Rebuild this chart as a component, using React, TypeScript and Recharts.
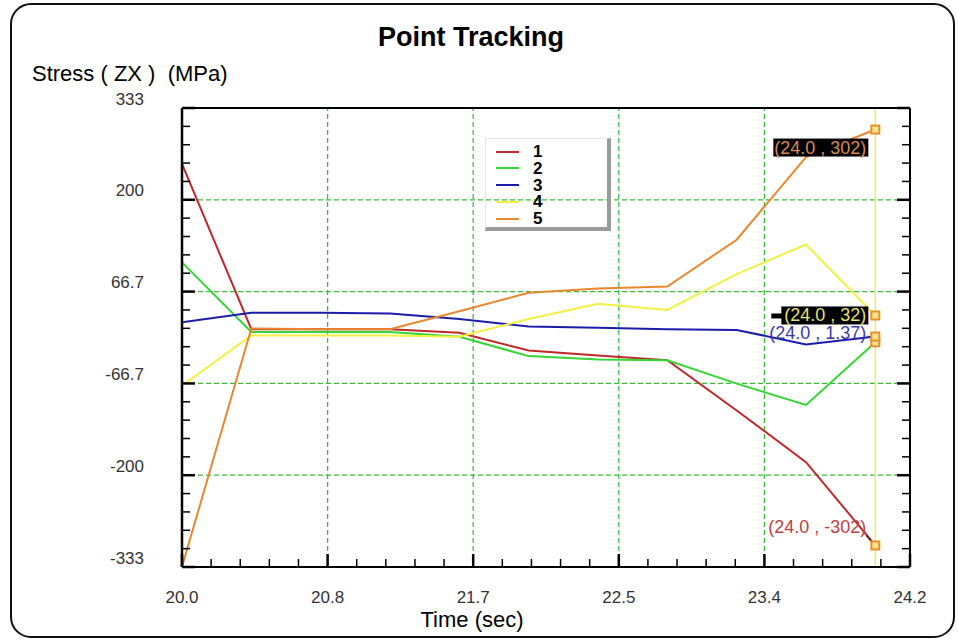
import React from "react";
import { LineChart, Line, XAxis, YAxis, ReferenceLine } from "recharts";

// sample times (sec)
const times = [20.0, 20.4, 20.8, 21.2, 21.6, 22.0, 22.4, 22.8, 23.2, 23.6, 24.0];

// stress ZX per tracked point (MPa)
const point1 = [252, 12, 12, 12, 7, -19, -26, -33, -106, -181, -302];
const point2 = [109, 8, 8, 8, 1, -27, -32, -33, -67, -98, -7];
const point3 = [22, 36, 36, 35, 27, 16, 14, 12, 11, -10, 1.37];
const point4 = [-70, 3, 3, 3, 1, 27, 49, 40, 92, 135, 32];
const point5 = [-333, 13, 12, 12, 38, 65, 71, 74, 142, 262, 302];

const seriesNames = ["1", "2", "3", "4", "5"];
const seriesColors = ["#c0282a", "#33d633", "#1c1caa", "#f2f040", "#e8882e"];

const xMajorTicks = [20.0, 20.84, 21.68, 22.52, 23.36, 24.2];
const xTickLabels = ["20.0", "20.8", "21.7", "22.5", "23.4", "24.2"];
const yMajorTicks = [-333.3, -200, -66.7, 66.7, 200, 333.3];
const yTickLabels = ["-333", "-200", "-66.7", "66.7", "200", "333"];
const cursorTime = 24.0;

const series = [point1, point2, point3, point4, point5];
const data = times.map((t, i) => {
  const row: Record<string, number> = { t };
  series.forEach((s, k) => (row["p" + (k + 1)] = s[i]));
  return row;
});

// 5 minor divisions between major ticks
function withMinor(major: number[]) {
  const out: number[] = [];
  for (let i = 0; i < major.length - 1; i++) {
    for (let k = 0; k < 5; k++) out.push(major[i] + ((major[i + 1] - major[i]) * k) / 5);
  }
  out.push(major[major.length - 1]);
  return out;
}
const xTicks = withMinor(xMajorTicks);
const yTicks = withMinor(yMajorTicks);
const majorIdx = (arr: number[], v: number) => arr.findIndex((m) => Math.abs(m - v) < 1e-6);

const FONT = "'Liberation Sans', Arial, sans-serif";
const TICK_FILL = "#333";

const BottomTick = (p: any) => {
  const j = majorIdx(xMajorTicks, p.payload.value);
  return (
    <g>
      <line x1={p.x} y1={p.y} x2={p.x} y2={p.y - (j >= 0 ? 13 : 8)} stroke="#000" strokeWidth={j >= 0 ? 2.5 : 1.5} />
      {j >= 0 && (
        <text x={p.x} y={p.y + 30} textAnchor="middle" dominantBaseline="central" fontSize={17} fontFamily={FONT} fill={TICK_FILL}>
          {xTickLabels[j]}
        </text>
      )}
    </g>
  );
};
const TopTick = (p: any) => {
  const j = majorIdx(xMajorTicks, p.payload.value);
  return <line x1={p.x} y1={p.y} x2={p.x} y2={p.y + (j >= 0 ? 13 : 8)} stroke="#000" strokeWidth={j >= 0 ? 2.5 : 1.5} />;
};
const LeftTick = (p: any) => {
  const j = majorIdx(yMajorTicks, p.payload.value);
  return (
    <g>
      <line x1={p.x} y1={p.y} x2={p.x + (j >= 0 ? 13 : 8)} y2={p.y} stroke="#000" strokeWidth={j >= 0 ? 2.5 : 1.5} />
      {j >= 0 && (
        <text x={p.x - 38} y={p.y - 9} textAnchor="end" dominantBaseline="central" fontSize={17} fontFamily={FONT} fill={TICK_FILL}>
          {yTickLabels[j]}
        </text>
      )}
    </g>
  );
};
const RightTick = (p: any) => {
  const j = majorIdx(yMajorTicks, p.payload.value);
  return <line x1={p.x} y1={p.y} x2={p.x - (j >= 0 ? 13 : 8)} y2={p.y} stroke="#000" strokeWidth={j >= 0 ? 2.5 : 1.5} />;
};

// end-of-track readouts (null = no readout)
const readouts: ({ dy: number; box: boolean; color: string } | null)[] = [
  { dy: -18, box: false, color: "#c04040" },
  null,
  { dy: -4, box: false, color: "#3a3aa0" },
  { dy: 0, box: true, color: "#e8e070" },
  { dy: 18, box: true, color: "#d98a55" },
];

const makeDot = (si: number) => (p: any) => {
  const { cx, cy, index } = p;
  if (index !== times.length - 1) return <g key={`d${si}-${index}`} />;
  const val = series[si][index];
  const txt = `(${times[index].toFixed(1)} , ${val})`;
  const r = readouts[si];
  const w = txt.length * 8 - 1;
  return (
    <g key={`d${si}-${index}`}>
      {r && r.box && <rect x={cx - 7 - w} y={cy + r.dy - 9} width={w} height={18} fill="#000" />}
      {r && r.box && si === 3 && <rect x={cx - 104} y={cy - 2} width={13} height={5} fill="#000" />}
      {r && (
        <text x={cx - 9} y={cy + r.dy} textAnchor="end" dominantBaseline="central" fontSize={18} fontFamily={FONT} fill={r.color}>
          {txt}
        </text>
      )}
      {r && si === 0 && <line x1={cx - 9} y1={cy - 10} x2={cx - 3} y2={cy - 3} stroke="#602020" strokeWidth={1.5} />}
      {r && si === 2 && <line x1={cx - 8} y1={cy} x2={cx - 3} y2={cy} stroke="#602020" strokeWidth={1.5} strokeDasharray="1 2" />}
      <rect x={cx - 4} y={cy - 4} width={8} height={8} fill="#f6e48a" stroke="#e8902e" strokeWidth={2} />
    </g>
  );
};

const gridColor = "#3cba3c";

export default function App() {
  return (
    <div style={{ position: "absolute", left: 0, top: 0, width: 958, height: 640, background: "#fff" }}>
      <LineChart width={958} height={640} data={data} margin={{ top: 0, right: 0, bottom: 0, left: 0 }}>
        <XAxis xAxisId="b" dataKey="t" type="number" orientation="bottom" domain={[20, 24.2]} ticks={xTicks} interval={0}
          height={73} tickSize={0} tickMargin={0} tick={BottomTick} axisLine={{ stroke: "#000", strokeWidth: 2 }} allowDataOverflow />
        <XAxis xAxisId="t" type="number" orientation="top" domain={[20, 24.2]} ticks={xTicks} interval={0}
          height={108} tickSize={0} tickMargin={0} tick={TopTick} axisLine={{ stroke: "#000", strokeWidth: 2 }} allowDataOverflow />
        <YAxis yAxisId="l" type="number" orientation="left" domain={[-333.3, 333.3]} ticks={yTicks} interval={0}
          width={182} tickSize={0} tickMargin={0} tick={LeftTick} axisLine={{ stroke: "#000", strokeWidth: 2.5 }} allowDataOverflow />
        <YAxis yAxisId="r" type="number" orientation="right" domain={[-333.3, 333.3]} ticks={yTicks} interval={0}
          width={48} tickSize={0} tickMargin={0} tick={RightTick} axisLine={{ stroke: "#000", strokeWidth: 2 }} allowDataOverflow />
        {xMajorTicks.slice(1, -1).map((v) => (
          <ReferenceLine key={"gx" + v} xAxisId="b" yAxisId="l" x={v} stroke={gridColor} strokeWidth={1.3} strokeDasharray="5 3" />
        ))}
        {yMajorTicks.slice(1, -1).map((v) => (
          <ReferenceLine key={"gy" + v} xAxisId="b" yAxisId="l" y={v} stroke={gridColor} strokeWidth={1.3} strokeDasharray="5 3" />
        ))}
        <ReferenceLine xAxisId="b" yAxisId="l" x={cursorTime} stroke="#f0ec6a" strokeWidth={1.5} />
        {seriesNames.map((n, i) => (
          <Line key={n} xAxisId="b" yAxisId="l" type="linear" dataKey={"p" + (i + 1)} name={n} stroke={seriesColors[i]}
            strokeWidth={2} dot={makeDot(i)} activeDot={false} isAnimationActive={false} />
        ))}
      </LineChart>

      <svg width={958} height={640} style={{ position: "absolute", left: 0, top: 0, pointerEvents: "none" }}>
        <rect x={11} y={4} width={943} height={633} rx={20} ry={20} fill="none" stroke="#111" strokeWidth={2} />
        <text x={471} y={46} textAnchor="middle" fontSize={27} fontWeight="bold" fontFamily={FONT} fill="#000">
          Point Tracking
        </text>
        <text x={32} y={81} fontSize={22} fontFamily={FONT} fill="#000" style={{ whiteSpace: "pre" }}>
          {"Stress ( ZX )  (MPa)"}
        </text>
        <text x={472} y={627} textAnchor="middle" fontSize={22} fontFamily={FONT} fill="#000">
          Time (sec)
        </text>
      </svg>

      <div style={{
        position: "absolute", left: 485, top: 138, width: 121, height: 88,
        borderTop: "1px solid #e4e4e4", borderLeft: "1px solid #e4e4e4",
        borderRight: "4px solid #9a9a9a", borderBottom: "4px solid #9a9a9a",
        fontFamily: FONT, fontWeight: "bold", fontSize: 17,
      }}>
        {seriesNames.map((n, i) => (
          <div key={n} style={{ position: "absolute", left: 0, top: 4 + i * 16.8, height: 17, display: "flex", alignItems: "center" }}>
            <div style={{ marginLeft: 10, width: 23, height: 2, background: seriesColors[i] }} />
            <span style={{ marginLeft: 14, lineHeight: "17px" }}>{n}</span>
          </div>
        ))}
      </div>
    </div>
  );
}
